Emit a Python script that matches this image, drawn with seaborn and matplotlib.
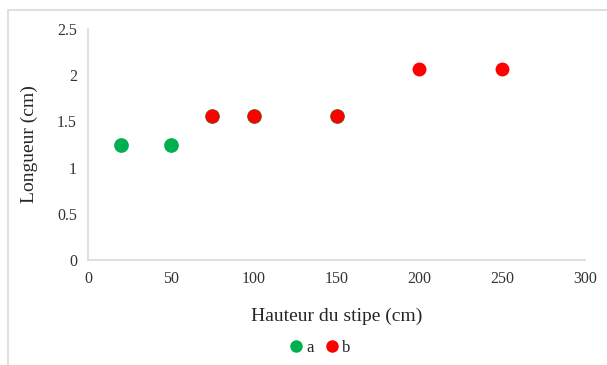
import pandas as pd
import matplotlib.pyplot as plt
import seaborn as sns
from matplotlib.patches import Rectangle

# Données
hauteur_a = [20, 50, 75, 100, 150]
longueur_a = [1.25, 1.25, 1.56, 1.56, 1.56]
hauteur_b = [75, 100, 150, 200, 250]
longueur_b = [1.56, 1.56, 1.56, 2.07, 2.07]
x_ticks = [0, 50, 100, 150, 200, 250, 300]
y_ticks = [0, 0.5, 1, 1.5, 2, 2.5]
y_labels = ['0', '0.5', '1', '1.5', '2', '2.5']

df_a = pd.DataFrame({'Hauteur': hauteur_a, 'Longueur': longueur_a})
df_b = pd.DataFrame({'Hauteur': hauteur_b, 'Longueur': longueur_b})

sns.set_style("white")
plt.rcParams['font.family'] = ['Liberation Serif', 'DejaVu Serif']

fig = plt.figure(figsize=(6.07, 3.65), dpi=100)
fig.patches.append(Rectangle((8 / 607, -0.1), 1.2, 1 - 10 / 365 + 0.1,
                             transform=fig.transFigure, fill=False,
                             edgecolor='#d9d9d9', linewidth=1.2))
ax = fig.add_axes([88 / 607, 105 / 365, 497 / 607, 231 / 365])

# série a un peu plus grande -> liseré vert sous les points rouges
sns.scatterplot(data=df_a, x='Hauteur', y='Longueur', color='#00B050',
                s=112, linewidth=0, ax=ax)
sns.scatterplot(data=df_b, x='Hauteur', y='Longueur', color='#FF0000',
                s=100, linewidth=0, ax=ax)

ax.set_xlim(0, 300)
ax.set_ylim(0, 2.5)
ax.set_xticks(x_ticks)
ax.set_yticks(y_ticks)
ax.set_yticklabels(y_labels)
ax.tick_params(length=0, labelsize=11.5, colors='#333333', pad=8)
for s in ['top', 'right']:
    ax.spines[s].set_visible(False)
for s in ['left', 'bottom']:
    ax.spines[s].set_color('#d9d9d9')
    ax.spines[s].set_linewidth(1.2)

ax.set_xlabel('Hauteur du stipe (cm)', fontsize=14, color='#262626', labelpad=15)
ax.set_ylabel('Longueur (cm)', fontsize=14, color='#262626', labelpad=14)

handles = [plt.Line2D([], [], marker='o', linestyle='', markersize=9,
                      markerfacecolor=c, markeredgewidth=0)
           for c in ['#00B050', '#FF0000']]
fig.legend(handles, ['a', 'b'], loc='center', bbox_to_anchor=(318 / 607, 1 - 348 / 365),
           ncol=2, frameon=False, fontsize=12, handletextpad=0.0,
           columnspacing=0.5, handlelength=1.2)

fig.savefig('out.png', dpi=100)
